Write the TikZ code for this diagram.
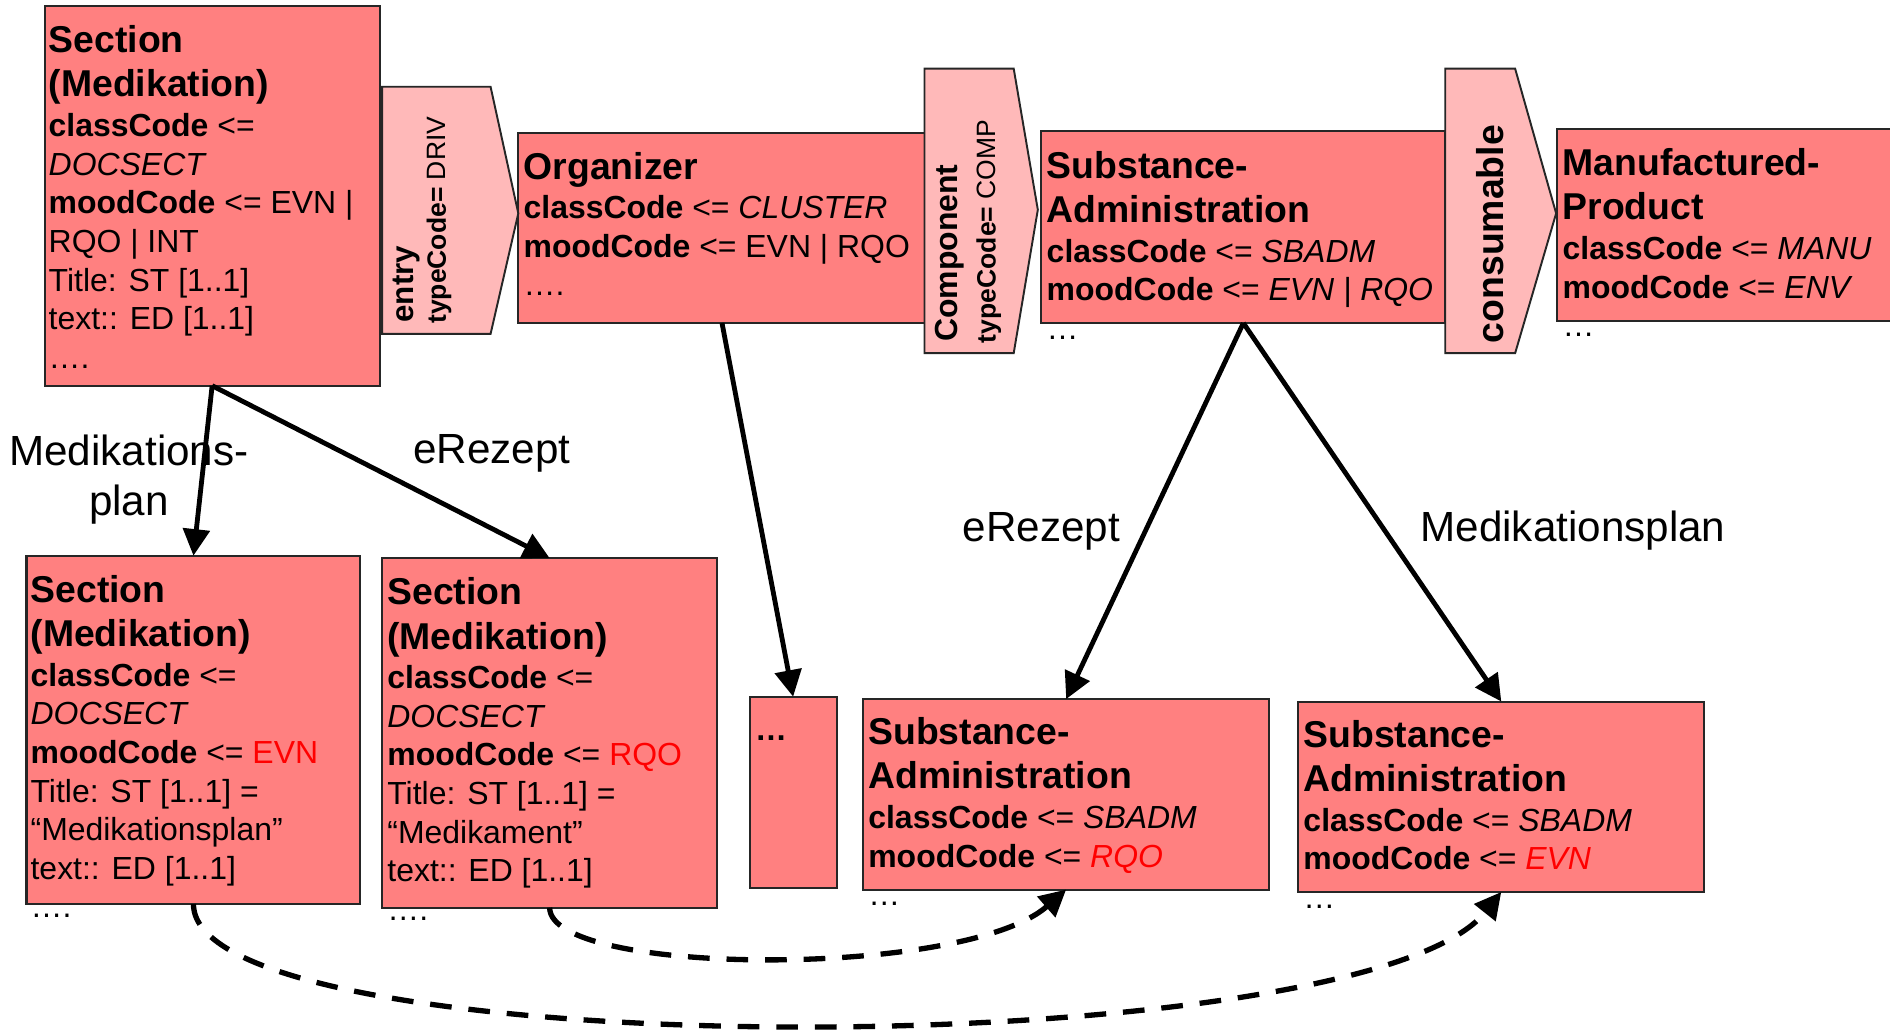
\documentclass[tikz,border=0pt]{standalone}
\usepackage{fontspec}
\setmainfont{Liberation Sans}
\usetikzlibrary{arrows.meta}
\definecolor{boxfill}{HTML}{FF8080}
\definecolor{relfill}{HTML}{FFB9B9}
\definecolor{redtxt}{HTML}{FF0000}
\newcommand\TTf{\fontsize{15.5}{18.3}\selectfont\bfseries}
\newcommand\BBf{\fontsize{13.25}{16}\selectfont}
\newcommand\SSf{\fontsize{11}{13}\selectfont}
\newcommand\LLf{\fontsize{17.5}{21}\selectfont}
\newcommand\RED[1]{{\color{redtxt}#1}}
\begin{document}
\begin{tikzpicture}[x=0.5pt,y=-0.5pt,
  cls/.style={draw=black!85, line width=0.85pt, fill=boxfill, rectangle, inner sep=0pt, outer sep=0pt, anchor=north west},
  rel/.style={draw=black!85, line width=0.8pt, fill=relfill, line join=miter},
  txt/.style={anchor=north west, align=left, inner sep=0pt, font=\BBf},
  reltxt/.style={rotate=90, anchor=base west, inner sep=0pt},
  lbl/.style={font=\LLf, align=center, inner sep=0pt},
  link/.style={line width=2pt, -{Triangle[length=11pt,width=11pt]}},
  dlink/.style={line width=2.2pt, dash pattern=on 9pt off 7pt, -{Triangle[length=11pt,width=11pt]}}
]
\useasboundingbox (0,0) rectangle (1568,856);
\fill[white] (0,0) rectangle (1568,856);

% boxes
\node[cls, minimum width=139pt, minimum height=157.5pt] (A) at (37,5) {};
\node[cls, minimum width=169pt, minimum height=79pt] (O) at (430,110) {};
\node[cls, minimum width=167.5pt, minimum height=79.5pt] (S) at (864,109) {};
\node[cls, minimum width=150pt, minimum height=79.5pt] (M) at (1292,107) {};
\node[cls, minimum width=138.5pt, minimum height=144.5pt] (B) at (22,461) {};
\node[cls, minimum width=139pt, minimum height=145pt] (C) at (317,463) {};
\node[cls, minimum width=36pt, minimum height=79.5pt] (D) at (622,578) {};
\node[cls, minimum width=168.5pt, minimum height=79pt] (R) at (716,580) {};
\node[cls, minimum width=168.5pt, minimum height=79pt] (E) at (1077,582) {};

% relationship arrows
\draw[rel] (317,72) -- (407,72) -- (430,177) -- (407,277) -- (317,277) -- cycle;
\draw[rel] (767,57) -- (841,57) -- (861,174) -- (841,293) -- (767,293) -- cycle;
\draw[rel] (1199,57) -- (1257,57) -- (1291,177) -- (1257,293) -- (1199,293) -- cycle;

\node[reltxt, font=\fontsize{13}{15}\selectfont\bfseries] (entryA) at (343,268) {entry};
\node[reltxt, font=\SSf] (entryB) at (370,269) {\textbf{typeCode=} DRIV};
\node[reltxt, font=\fontsize{13.25}{15}\selectfont\bfseries] (compA) at (794,284) {Component};
\node[reltxt, font=\SSf] (compB) at (826,285) {\textbf{typeCode=} COMP};
\node[reltxt, font=\TTf] (cons) at (1247.5,285) {consumable};

% box texts
\node[txt] (At) at (40,21) {{\TTf Section}\\[2.3pt]{\TTf (Medikation)}\\[0.5pt]
  \textbf{classCode} <=\\\textit{DOCSECT}\\\textbf{moodCode} <= EVN |\\RQO | INT\\
  Title: ST [1..1]\\text:: ED [1..1]\\….};
\node[txt] (Ot) at (434,126) {{\TTf Organizer}\\[0.3pt]
  \textbf{classCode} <= \textit{CLUSTER}\\\textbf{moodCode} <= EVN | RQO\\….};
\node[txt] (St) at (868,125) {{\TTf Substance-}\\[2.3pt]{\TTf Administration}\\[0.5pt]
  \textbf{classCode} <= \textit{SBADM}\\\textbf{moodCode} <= \textit{EVN | RQO}\\…};
\node[txt] (Mt) at (1296,123) {{\TTf Manufactured-}\\[2.3pt]{\TTf Product}\\[0.5pt]
  \textbf{classCode} <= \textit{MANU}\\\textbf{moodCode} <= \textit{ENV}\\…};
\node[txt] (Bt) at (25,477) {{\TTf Section}\\[2.3pt]{\TTf (Medikation)}\\[0.5pt]
  \textbf{classCode} <=\\\textit{DOCSECT}\\\textbf{moodCode} <= \RED{EVN}\\
  Title: ST [1..1] =\\“Medikationsplan”\\text:: ED [1..1]\\….};
\node[txt] (Ct) at (321,479) {{\TTf Section}\\[2.3pt]{\TTf (Medikation)}\\[0.5pt]
  \textbf{classCode} <=\\\textit{DOCSECT}\\\textbf{moodCode} <= \RED{RQO}\\
  Title: ST [1..1] =\\“Medikament”\\text:: ED [1..1]\\….};
\node[anchor=base west, inner sep=0pt, font=\BBf\bfseries] (Dt) at (626,614) {…};
\node[txt] (Rt) at (720,595) {{\TTf Substance-}\\[2.3pt]{\TTf Administration}\\[0.5pt]
  \textbf{classCode} <= \textit{SBADM}\\\textbf{moodCode} <= \RED{\textit{RQO}}\\…};
\node[txt] (Et) at (1081,597) {{\TTf Substance-}\\[2.3pt]{\TTf Administration}\\[0.5pt]
  \textbf{classCode} <= \textit{SBADM}\\\textbf{moodCode} <= \RED{\textit{EVN}}\\…};

% connectors
\draw[link] (A.south) -- (B.north);
\draw[link] (A.south) -- (C.north);
\draw[link] (O.south) -- (D.north);
\draw[link] (S.south) -- (R.north);
\draw[link] (S.south) -- (E.north);

\draw[dlink] (C.south) .. controls (456,810) and (800,812) .. (R.south);
\draw[dlink] (B.south) .. controls (160,885) and (1130,885) .. (E.south);

% labels
\node[lbl] (l1) at (107,398) {Medikations-\\plan};
\node[lbl, anchor=base] (l2) at (408,384.5) {eRezept};
\node[lbl, anchor=base] (l3) at (864,449.5) {eRezept};
\node[lbl, anchor=base] (l4) at (1305,449.5) {Medikationsplan};
\end{tikzpicture}
\end{document}
